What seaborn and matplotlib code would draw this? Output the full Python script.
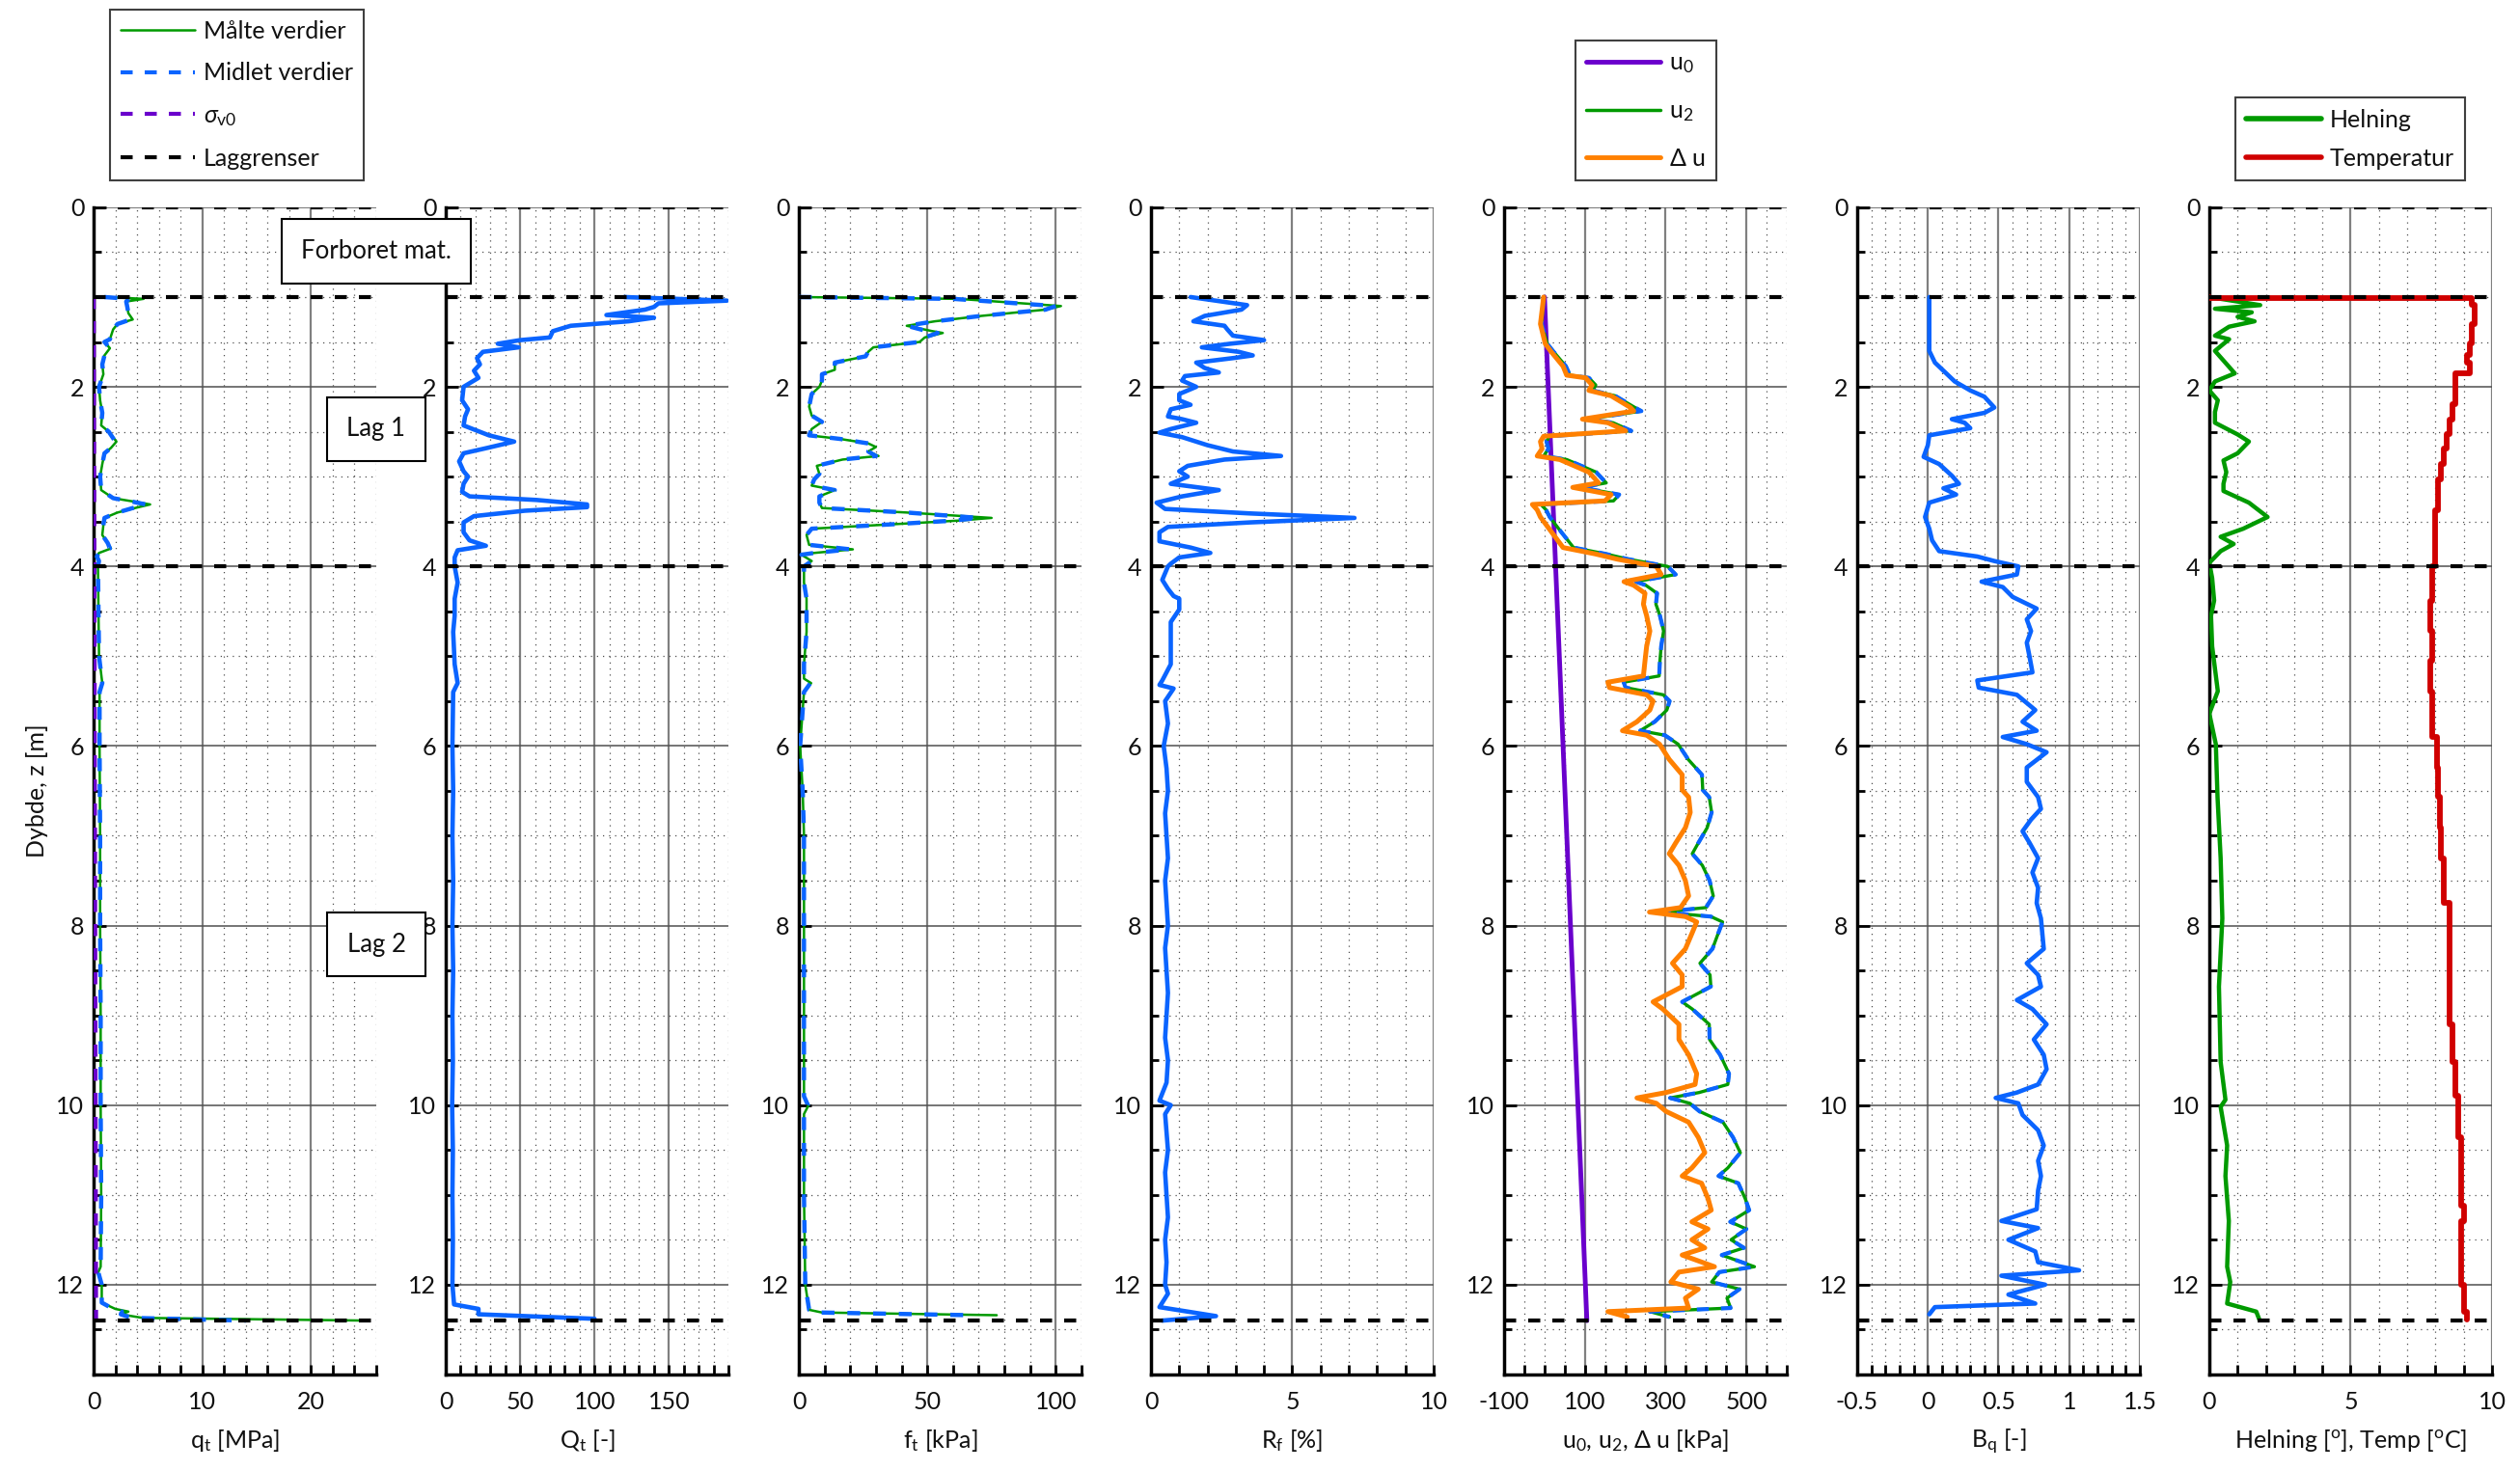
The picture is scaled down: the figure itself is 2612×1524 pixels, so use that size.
import matplotlib
matplotlib.use("Agg")
import matplotlib.pyplot as plt
import seaborn as sns
from matplotlib.lines import Line2D
from matplotlib.ticker import MultipleLocator, FixedLocator, FormatStrFormatter

sns.set_style("white")
plt.rcParams['font.family'] = ['Lato', 'DejaVu Sans']
plt.rcParams['mathtext.fontset'] = 'custom'
plt.rcParams['mathtext.rm'] = 'Lato'
plt.rcParams['mathtext.it'] = 'Lato:italic'
plt.rcParams['mathtext.bf'] = 'Lato:bold'
plt.rcParams['mathtext.fallback'] = 'stixsans'
plt.rcParams['axes.unicode_minus'] = False

# ---------------- data ----------------
layer_depths = [0.0, 1.0, 4.0, 12.4]

# q_t [MPa]
z_q = [1.00, 1.02, 1.05, 1.11, 1.18, 1.25, 1.30, 1.36, 1.47, 1.50, 1.57, 1.65, 1.75, 1.86, 2.00,
       2.15, 2.29, 2.43, 2.50, 2.61, 2.68, 2.74, 2.86, 3.00, 3.15, 3.24, 3.28, 3.31, 3.35, 3.40,
       3.46, 3.54, 3.65, 3.74, 3.80, 3.85, 3.89, 3.94, 4.00, 4.50, 5.00, 5.30, 5.40, 6.00, 7.00,
       8.00, 9.00, 10.00, 11.00, 11.80, 11.87, 12.00, 12.20, 12.27, 12.30, 12.33, 12.37, 12.40]
q_meas = [1.2, 4.6, 3.0, 3.1, 3.2, 3.6, 2.2, 1.8, 1.5, 1.0, 1.5, 1.0, 0.8, 0.9, 0.5,
          0.6, 0.8, 0.7, 1.4, 2.1, 1.6, 1.0, 0.8, 0.6, 0.7, 1.8, 3.8, 5.2, 3.8, 2.2,
          1.0, 0.9, 0.8, 1.3, 1.6, 0.5, 0.3, 0.5, 0.4, 0.45, 0.5, 0.8, 0.55, 0.55, 0.6,
          0.6, 0.65, 0.65, 0.7, 0.65, 0.4, 0.75, 0.75, 2.0, 3.2, 2.5, 4.5, 25.0]
q_avg = [1.0, 3.3, 3.0, 3.1, 3.2, 3.4, 2.2, 1.8, 1.5, 1.0, 1.5, 1.0, 0.8, 0.9, 0.5,
         0.6, 0.8, 0.7, 1.4, 2.0, 1.6, 1.0, 0.8, 0.6, 0.7, 1.8, 3.6, 4.8, 3.6, 2.2,
         1.0, 0.9, 0.8, 1.3, 1.5, 0.5, 0.3, 0.5, 0.4, 0.45, 0.5, 0.8, 0.55, 0.55, 0.6,
         0.6, 0.65, 0.65, 0.7, 0.65, 0.45, 0.75, 0.75, 1.8, 2.6, 2.5, 3.5, 14.0]
z_sv0 = [1.0, 12.4]
sv0 = [0.02, 0.23]

# Q_t [-]
z_Q = [1.00, 1.04, 1.07, 1.11, 1.14, 1.20, 1.23, 1.27, 1.32, 1.38, 1.45, 1.48, 1.52, 1.56, 1.61,
       1.68, 1.75, 1.82, 1.90, 2.00, 2.15, 2.25, 2.33, 2.43, 2.54, 2.61, 2.68, 2.74, 2.83, 2.94,
       3.00, 3.08, 3.17, 3.22, 3.26, 3.31, 3.34, 3.38, 3.44, 3.51, 3.62, 3.71, 3.77, 3.82, 3.90,
       4.00, 4.18, 4.36, 4.55, 4.73, 5.09, 5.30, 5.40, 6.00, 6.50, 7.00, 7.50, 8.00, 8.50, 9.00,
       9.50, 10.00, 10.50, 11.00, 11.50, 12.00, 12.22, 12.27, 12.33, 12.38]
Q_t = [120, 189, 143, 140, 134, 108, 140, 123, 84, 72, 70, 50, 35, 49, 25,
       21, 23, 19, 22, 12, 11, 15, 13, 12, 29, 46, 28, 12, 9, 12,
       15, 12, 11, 16, 61, 95, 95, 53, 19, 12, 12, 16, 27, 8, 6,
       6, 8, 6, 6, 5, 6, 8, 5, 4.5, 5.0, 4.5, 5.0, 4.5, 5.0, 4.5,
       4.8, 4.3, 4.8, 4.5, 4.8, 4.5, 5.6, 22, 22, 100]

# f_t [kPa]
z_f = [1.00, 1.02, 1.10, 1.14, 1.21, 1.27, 1.32, 1.38, 1.40, 1.45, 1.50, 1.56, 1.61, 1.66, 1.73,
       1.81, 1.86, 1.93, 2.00, 2.08, 2.22, 2.32, 2.39, 2.47, 2.54, 2.58, 2.63, 2.67, 2.72, 2.77,
       2.81, 2.88, 2.97, 3.03, 3.10, 3.15, 3.22, 3.29, 3.35, 3.40, 3.46, 3.49, 3.53, 3.58, 3.65,
       3.76, 3.81, 3.85, 3.87, 3.94, 4.00, 4.18, 4.36, 4.73, 5.09, 5.25, 5.30, 5.40, 6.00, 6.50,
       7.00, 8.00, 9.00, 9.90, 10.00, 10.10, 11.00, 12.00, 12.28, 12.31, 12.34]
f_meas = [0, 62, 102, 96, 71, 53, 42, 52, 56, 49, 47, 29, 27, 26, 14,
          14, 9, 9, 8, 5, 4, 5, 9, 5, 4, 16, 27, 30, 27, 31,
          17, 7, 8, 6, 5, 14, 8, 8, 9, 42, 75, 62, 37, 5, 3,
          4, 21, 6, 1, 5, 2, 2, 3, 3, 2, 2, 4.8, 2, 0.5, 1.5,
          2, 2, 2, 2, 3.8, 2, 2, 2.5, 4, 9, 77]
f_avg = [0, 60, 100, 96, 71, 53, 42, 50, 54, 49, 47, 29, 27, 26, 14,
         14, 9, 9, 8, 5, 4, 5, 9, 5, 4, 16, 27, 29, 27, 30,
         17, 7, 8, 6, 5, 14, 8, 8, 9, 42, 70, 60, 37, 5, 3,
         4, 20, 6, 1, 5, 2, 2, 3, 3, 2, 2, 4.5, 2, 0.5, 1.5,
         2, 2, 2, 2, 3.5, 2, 2, 2.5, 4, 8, 67]

# R_f [%]
z_R = [1.00, 1.09, 1.14, 1.21, 1.27, 1.32, 1.36, 1.43, 1.48, 1.52, 1.56, 1.61, 1.65, 1.68, 1.73,
       1.79, 1.84, 1.88, 1.93, 2.00, 2.08, 2.15, 2.20, 2.25, 2.33, 2.36, 2.40, 2.47, 2.51, 2.56,
       2.65, 2.72, 2.77, 2.81, 2.88, 2.94, 3.00, 3.08, 3.15, 3.22, 3.29, 3.36, 3.41, 3.46, 3.51,
       3.56, 3.62, 3.72, 3.79, 3.85, 3.90, 3.97, 4.00, 4.15, 4.25, 4.33, 4.36, 4.48, 4.62, 4.80,
       5.09, 5.27, 5.32, 5.36, 5.50, 5.75, 6.00, 6.25, 6.50, 6.75, 7.00, 7.25, 7.50, 7.75, 8.00,
       8.25, 8.50, 8.75, 9.00, 9.25, 9.50, 9.75, 9.95, 10.00, 10.10, 10.30, 10.50, 10.75, 11.00,
       11.25, 11.50, 11.75, 12.00, 12.10, 12.25, 12.35, 12.40]
R_f = [1.4, 3.4, 3.2, 1.9, 1.5, 2.6, 2.7, 2.9, 4.0, 2.8, 1.8, 3.1, 3.6, 2.9, 1.6,
       1.9, 2.4, 1.2, 1.1, 1.6, 1.0, 1.0, 1.4, 0.7, 0.6, 1.1, 1.6, 0.7, 0.3, 1.1,
       2.0, 2.9, 4.6, 2.6, 1.3, 1.0, 1.3, 0.7, 2.4, 1.1, 0.2, 0.5, 3.5, 7.2, 3.5,
       0.6, 0.3, 0.3, 1.4, 2.1, 1.0, 0.7, 0.6, 0.4, 0.6, 0.8, 1.0, 1.0, 0.7, 0.7,
       0.7, 0.4, 0.3, 0.8, 0.5, 0.6, 0.45, 0.55, 0.6, 0.5, 0.55, 0.6, 0.5, 0.55, 0.6,
       0.5, 0.55, 0.6, 0.55, 0.5, 0.6, 0.55, 0.3, 0.7, 0.5, 0.55, 0.6, 0.5, 0.55,
       0.6, 0.5, 0.55, 0.5, 0.6, 0.3, 2.3, 0.4]

# pore pressures [kPa]
z_u0 = [1.0, 12.4]
u0 = [0, 105]
z_u = [1.00, 1.30, 1.52, 1.60, 1.77, 1.87, 1.90, 1.98, 2.04, 2.10, 2.23, 2.27, 2.36, 2.40, 2.49,
       2.55, 2.61, 2.69, 2.77, 2.81, 2.95, 3.07, 3.12, 3.20, 3.27, 3.31, 3.37, 3.45, 3.62, 3.79,
       3.86, 3.92, 4.00, 4.09, 4.17, 4.21, 4.30, 4.42, 4.55, 4.72, 4.89, 5.05, 5.22, 5.29, 5.35,
       5.43, 5.50, 5.60, 5.73, 5.83, 5.88, 5.98, 6.15, 6.32, 6.49, 6.57, 6.74, 6.91, 7.08, 7.20,
       7.33, 7.50, 7.67, 7.80, 7.85, 7.90, 7.96, 8.09, 8.26, 8.42, 8.55, 8.68, 8.85, 8.93, 9.10,
       9.27, 9.44, 9.65, 9.77, 9.86, 9.92, 9.98, 10.07, 10.19, 10.36, 10.53, 10.70, 10.79, 10.87, 11.04,
       11.17, 11.30, 11.38, 11.50, 11.59, 11.67, 11.80, 11.86, 11.97, 12.05, 12.15, 12.26, 12.30, 12.36]
u2 = [-2, -7, 7, 21, 53, 63, 110, 127, 120, 175, 224, 240, 107, 170, 215,
      12, 5, 10, -2, 55, 128, 153, 90, 185, 171, -9, 4, 13, 42, 72,
      151, 208, 305, 325, 226, 251, 279, 276, 286, 295, 289, 286, 284, 196, 201,
      294, 310, 303, 273, 237, 298, 331, 356, 390, 392, 408, 414, 403, 381, 366,
      391, 409, 418, 400, 290, 412, 441, 430, 416, 385, 410, 412, 341, 366, 408,
      409, 435, 457, 454, 383, 311, 360, 384, 442, 467, 485, 454, 431, 480, 497,
      507, 460, 500, 462, 494, 439, 520, 433, 414, 483, 452, 461, 261, 310]
du = [-2, -10, 2, 15, 46, 55, 102, 118, 110, 165, 213, 221, 94, 157, 201,
      -2, -10, -6, -18, 38, 110, 134, 70, 165, 150, -30, -18, -10, 18, 46,
      125, 181, 277, 289, 197, 221, 249, 245, 253, 261, 253, 249, 245, 157, 161,
      253, 269, 261, 229, 193, 253, 285, 309, 341, 341, 357, 361, 349, 325, 309,
      333, 349, 357, 337, 260, 349, 377, 365, 349, 317, 341, 341, 269, 293, 333,
      333, 357, 377, 373, 301, 229, 277, 301, 357, 381, 397, 365, 341, 389, 405,
      413, 365, 405, 365, 397, 341, 421, 333, 313, 381, 349, 357, 157, 205]

# B_q [-]
z_B = [1.00, 1.52, 1.60, 1.73, 1.85, 1.94, 2.04, 2.11, 2.23, 2.29, 2.36, 2.40, 2.46, 2.54, 2.65,
       2.78, 2.86, 2.99, 3.08, 3.13, 3.20, 3.29, 3.45, 3.58, 3.71, 3.83, 3.89, 3.94, 4.00, 4.09,
       4.17, 4.23, 4.34, 4.47, 4.59, 4.72, 4.85, 5.01, 5.18, 5.27, 5.35, 5.43, 5.60, 5.73, 5.83,
       5.90, 5.98, 6.07, 6.24, 6.40, 6.57, 6.70, 6.82, 6.95, 7.08, 7.25, 7.41, 7.58, 7.75, 7.92,
       8.09, 8.26, 8.42, 8.55, 8.68, 8.83, 8.93, 9.10, 9.27, 9.44, 9.60, 9.77, 9.86, 9.92, 9.98,
       10.11, 10.28, 10.45, 10.62, 10.79, 10.95, 11.16, 11.29, 11.37, 11.50, 11.63, 11.75, 11.84, 11.90, 12.00,
       12.11, 12.21, 12.25, 12.33]
B_q = [0.01, 0.01, 0.01, 0.05, 0.13, 0.19, 0.30, 0.40, 0.47, 0.40, 0.17, 0.26, 0.30, 0.01, 0.00,
       -0.03, 0.08, 0.17, 0.22, 0.11, 0.20, 0.01, -0.02, 0.01, 0.03, 0.08, 0.35, 0.47, 0.64, 0.63,
       0.38, 0.53, 0.60, 0.77, 0.70, 0.73, 0.70, 0.72, 0.74, 0.35, 0.36, 0.63, 0.76, 0.67, 0.77,
       0.53, 0.70, 0.84, 0.70, 0.70, 0.78, 0.80, 0.73, 0.67, 0.72, 0.78, 0.74, 0.78, 0.77, 0.80,
       0.81, 0.82, 0.70, 0.78, 0.80, 0.63, 0.74, 0.84, 0.75, 0.82, 0.84, 0.78, 0.63, 0.48, 0.64,
       0.67, 0.78, 0.82, 0.78, 0.80, 0.78, 0.77, 0.52, 0.78, 0.57, 0.76, 0.78, 1.07, 0.52, 0.83,
       0.57, 0.76, 0.05, 0.01]

# Helning [deg] and temperature [degC]
z_H = [1.00, 1.09, 1.13, 1.17, 1.22, 1.27, 1.33, 1.43, 1.47, 1.60, 1.85, 1.94, 2.04, 2.15, 2.28,
       2.40, 2.53, 2.61, 2.74, 2.82, 2.95, 3.08, 3.16, 3.29, 3.45, 3.58, 3.67, 3.75, 3.83, 3.96,
       4.13, 4.38, 4.55, 4.89, 5.39, 5.64, 5.98, 6.57, 7.25, 7.92, 8.68, 9.52, 9.94, 10.02, 10.45,
       10.79, 11.29, 11.80, 11.97, 12.21, 12.30, 12.39]
helning = [0.0, 1.8, 0.2, 1.5, 1.0, 1.6, 0.7, 0.2, 0.7, 0.2, 0.9, 0.2, 0.0, 0.3, 0.2,
           0.2, 1.0, 1.4, 1.0, 0.5, 0.6, 0.5, 0.5, 1.4, 2.06, 1.2, 0.4, 0.86, 0.4, 0.0,
           0.1, 0.17, 0.06, 0.1, 0.3, 0.0, 0.23, 0.29, 0.4, 0.46, 0.34, 0.4, 0.57, 0.4, 0.63,
           0.57, 0.69, 0.63, 0.74, 0.63, 1.66, 1.77]
z_T = [1.00, 1.01, 1.09, 1.21, 1.30, 1.52, 1.64, 1.73, 1.85, 2.02, 2.19, 2.36, 2.53, 2.69, 2.86,
       3.03, 3.37, 3.71, 4.00, 4.38, 4.72, 5.05, 5.39, 5.73, 5.90, 6.24, 6.57, 6.91, 7.25, 7.67,
       7.75, 8.09, 8.42, 8.76, 9.10, 9.52, 9.90, 10.36, 10.79, 11.12, 11.29, 11.63, 12.00, 12.30, 12.39]
temp = [0.0, 9.3, 9.4, 9.4, 9.3, 9.2, 9.1, 9.2, 8.7, 8.7, 8.6, 8.5, 8.4, 8.3, 8.2,
        8.1, 8.0, 8.0, 7.9, 7.8, 7.9, 7.8, 7.9, 7.9, 8.06, 8.1, 8.15, 8.2, 8.3, 8.3,
        8.5, 8.5, 8.5, 8.5, 8.6, 8.7, 8.8, 8.9, 8.9, 9.0, 8.9, 8.9, 9.0, 9.1, 9.1]

xlabels = [r'q$_{\rm t}$ [MPa]', r'Q$_{\rm t}$ [-]', r'f$_{\rm t}$ [kPa]', r'R$_{\rm f}$ [%]',
           r'u$_{\rm 0}$, u$_{\rm 2}$, $\Delta$ u [kPa]', r'B$_{\rm q}$ [-]',
           r'Helning [$^{\rm o}$], Temp [$^{\rm o}$C]']
xlims = [(0, 26), (0, 190), (0, 110), (0, 10), (-100, 600), (-0.5, 1.5), (0, 10)]
xmajors = [[0, 10, 20], [0, 50, 100, 150], [0, 50, 100], [0, 5, 10],
           [-100, 100, 300, 500], [-0.5, 0, 0.5, 1, 1.5], [0, 5, 10]]
xminors = [2, 10, 10, 1, 50, 0.1, 1]

# ---------------- style ----------------
GREEN = '#009a00'
BLUE = '#0a64ff'
PURPLE = '#6a00cc'
ORANGE = '#ff8000'
RED = '#d00000'
DASH = (0, (3, 3))
TXT = '#111111'
FS = 18

fig = plt.figure(figsize=(26.12, 15.24), dpi=100)
lefts = [0.03714, 0.17688, 0.31700, 0.45674, 0.59686, 0.73698, 0.87672]
W, B, H = 0.11217, 0.0650, 0.794
axes = [fig.add_axes([l, B, W, H]) for l in lefts]


def trace(ax, z, v, color, lw, ls='-', zorder=3, **kw):
    n = min(len(z), len(v))
    sns.lineplot(x=list(v[:n]), y=list(z[:n]), sort=False, estimator=None, ax=ax,
                 color=color, linewidth=lw, linestyle=ls, zorder=zorder, legend=False, **kw)


for i, ax in enumerate(axes):
    ax.set_facecolor('white')
    ax.set_xlim(*xlims[i])
    ax.set_ylim(13, 0)
    ax.xaxis.set_major_locator(FixedLocator(xmajors[i]))
    ax.xaxis.set_minor_locator(MultipleLocator(xminors[i]))
    ax.yaxis.set_major_locator(MultipleLocator(2))
    ax.yaxis.set_minor_locator(MultipleLocator(0.5))
    ax.xaxis.set_major_formatter(FormatStrFormatter('%g'))
    ax.yaxis.set_major_formatter(FormatStrFormatter('%g'))
    ax.set_axisbelow(True)
    ax.grid(True, which='major', axis='x', color='#808080', lw=1.6, ls='-')
    ax.grid(True, which='major', axis='y', color='#505050', lw=1.1, ls='-')
    ax.grid(True, which='minor', axis='both', color='#505050', lw=0.9, ls=(0, (1, 4)))
    for s in ['top', 'right']:
        ax.spines[s].set_visible(False)
    for s in ['left', 'bottom']:
        ax.spines[s].set_visible(True)
        ax.spines[s].set_color('black')
        ax.spines[s].set_linewidth(2.5)
    ax.tick_params(axis='both', which='both', direction='in', colors='black', width=2,
                   labelsize=FS, top=False, right=False, left=True, bottom=True,
                   labelcolor=TXT)
    ax.tick_params(axis='y', which='major', length=9, pad=7)
    ax.tick_params(axis='y', which='minor', length=6)
    ax.tick_params(axis='x', which='both', length=7, pad=12)
    ax.set_xlabel(xlabels[i], fontsize=FS, labelpad=11, color=TXT)
    ax.set_ylabel('')
    for d in layer_depths:
        ax.axhline(d, color='black', lw=3, ls=DASH, zorder=6)

axes[0].set_ylabel('Dybde, z [m]', fontsize=FS, labelpad=6, color=TXT)

# panel 1
trace(axes[0], z_q, q_meas, GREEN, 1.8)
trace(axes[0], z_q, q_avg, BLUE, 3.2, DASH, 4)
trace(axes[0], z_sv0, sv0, PURPLE, 3.0, DASH, 4)
# panel 2
trace(axes[1], z_Q, Q_t, BLUE, 3.3)
# panel 3
trace(axes[2], z_f, f_meas, GREEN, 1.8)
trace(axes[2], z_f, f_avg, BLUE, 3.2, DASH, 4)
# panel 4
trace(axes[3], z_R, R_f, BLUE, 3.3)
# panel 5
trace(axes[4], z_u0, u0, PURPLE, 3.5)
trace(axes[4], z_u, u2, GREEN, 2.4)
trace(axes[4], z_u, u2, BLUE, 3.0, DASH, 4)
trace(axes[4], z_u, du, ORANGE, 3.6, '-', 5)
# panel 6
trace(axes[5], z_B, B_q, BLUE, 3.3)
# panel 7
trace(axes[6], z_H, helning, GREEN, 3.2)
trace(axes[6], z_T, temp, RED, 4.2, drawstyle='steps-pre')

# layer annotation boxes
box = dict(boxstyle='square,pad=0.8', fc='white', ec='black', lw=1.5)
for txt, zc in [('Forboret mat.', 0.49), ('Lag 1', 2.47), ('Lag 2', 8.21)]:
    fig.text(26, zc, txt, transform=axes[0].transData, ha='center', va='center',
             fontsize=18.5, color=TXT, bbox=box, zorder=20)

# legends
def legend(handles, labels, cx, **kw):
    lg = fig.legend(handles=handles, labels=labels, loc='lower center',
                    bbox_to_anchor=(cx, 0.877), bbox_transform=fig.transFigure,
                    borderaxespad=0, fontsize=18, handlelength=3.1, handletextpad=0.35,
                    borderpad=0.45, frameon=True, fancybox=False, framealpha=1,
                    edgecolor='#404040', **kw)
    lg.get_frame().set_linewidth(1.5)
    for t in lg.get_texts():
        t.set_color(TXT)
    return lg

h1 = [Line2D([], [], color=GREEN, lw=1.8),
      Line2D([], [], color=BLUE, lw=3, ls=DASH),
      Line2D([], [], color=PURPLE, lw=3, ls=DASH),
      Line2D([], [], color='black', lw=3, ls=DASH)]
legend(h1, ['Målte verdier', 'Midlet verdier', r'$\sigma_{\rm v0}$', 'Laggrenser'], 0.094,
       labelspacing=0.82)
h2 = [Line2D([], [], color=PURPLE, lw=3.5),
      Line2D([], [], color=GREEN, lw=2.5),
      Line2D([], [], color=ORANGE, lw=3.5)]
legend(h2, [r'u$_{\rm 0}$', r'u$_{\rm 2}$', r'$\Delta$ u'], 0.653, labelspacing=1.0)
h3 = [Line2D([], [], color=GREEN, lw=4),
      Line2D([], [], color=RED, lw=4)]
legend(h3, ['Helning', 'Temperatur'], 0.9326, labelspacing=0.7)

fig.savefig('out.png', dpi=100)
